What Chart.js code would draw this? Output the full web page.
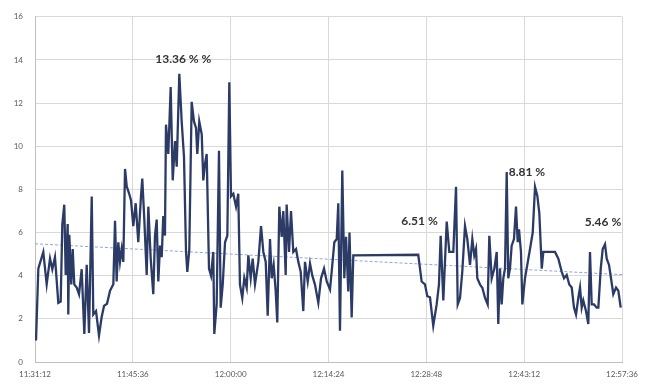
<!DOCTYPE html>
<html>
<head>
<meta charset="utf-8">
<script src="https://cdn.jsdelivr.net/npm/chart.js@4"></script>
<style>
  html, body { margin: 0; padding: 0; background: #fff; }
  #wrap { width: 653px; height: 385px; }
</style>
</head>
<body>
<div id="wrap"><canvas id="cpuChart"></canvas></div>
<script>
// clock time of the first sample, axis runs 86.4 minutes in 14.4 minute steps
const startSeconds = 11 * 3600 + 31 * 60 + 12;
const xTicks = [0, 14.4, 28.8, 43.2, 57.6, 72, 86.4];
const yTicks = [0, 2, 4, 6, 8, 10, 12, 14, 16];

// minutes since start
const minutes = [
  0.15, 0.49, 1.22, 1.72, 2.21, 2.55, 2.94, 3.43, 3.78, 4.02, 4.31, 4.52, 4.81, 4.90, 5.05,
  5.34, 5.55, 5.78, 6.14, 6.48, 6.87, 7.26, 7.61, 7.95, 8.35, 8.58, 8.98, 9.42, 9.82, 10.16,
  10.60, 11.04, 11.53, 11.78, 12.02, 12.26, 12.51, 12.76, 13.00, 13.25, 13.50, 13.84, 14.13, 14.47, 14.82,
  15.20, 15.60, 15.79, 16.09, 16.44, 16.68, 17.03, 17.41, 17.66, 17.91, 18.15, 18.40, 18.65, 18.88, 19.13,
  19.28, 19.62, 19.97, 20.27, 20.61, 20.86, 21.24, 21.59, 21.93, 22.23, 22.42, 22.71, 23.06, 23.40, 23.70,
  23.89, 24.18, 24.54, 24.77, 25.02, 25.27, 25.61, 25.91, 26.24, 26.39, 26.74, 27.08, 27.33, 27.63, 27.97,
  28.31, 28.60, 28.85, 29.19, 29.59, 29.92, 30.17, 30.51, 30.81, 31.16, 31.40, 31.75, 32.04, 32.38, 32.87,
  33.27, 33.61, 33.96, 34.25, 34.59, 34.84, 35.13, 35.43, 35.66, 35.96, 36.31, 36.55, 36.90, 37.04, 37.39,
  37.68, 38.02, 38.42, 38.76, 39.11, 39.49, 39.74, 40.14, 40.48, 40.82, 41.21, 41.70, 42.10, 42.54, 42.94,
  43.42, 43.76, 44.06, 44.41, 44.64, 44.89, 45.23, 45.53, 45.78, 46.11, 46.29, 46.61, 46.85, 56.41, 56.91,
  57.40, 57.74, 58.14, 58.62, 59.12, 59.46, 59.71, 60.10, 60.60, 60.98, 61.23, 61.57, 61.97, 62.22, 62.56,
  62.89, 63.29, 63.63, 64.03, 64.37, 64.66, 64.91, 65.10, 65.50, 65.84, 66.24, 66.63, 66.87, 67.22, 67.61,
  67.96, 68.19, 68.44, 68.69, 68.93, 69.18, 69.43, 69.66, 69.91, 70.16, 70.50, 70.80, 71.05, 71.24, 71.53,
  71.73, 72.12, 72.46, 72.86, 73.26, 73.60, 73.94, 74.23, 74.59, 74.82, 76.54, 77.03, 77.53, 77.87, 78.26,
  78.64, 79.00, 79.33, 79.63, 79.97, 80.22, 80.47, 80.70, 81.10, 81.44, 81.69, 81.94, 82.28, 82.68, 82.92,
  83.27, 83.56, 83.90, 84.15, 84.49, 84.78, 85.12, 85.52, 85.86, 86.21
];

// usage in percent
const usage = [
  1.0, 4.33, 5.1, 3.6, 4.8, 4.3, 4.86, 2.74, 2.8, 6.38, 7.29, 4.03, 6.4, 2.2, 5.9,
  3.6, 5.24, 3.6, 3.45, 3.14, 4.3, 1.3, 4.5, 1.35, 7.67, 2.2, 2.36, 1.23, 2.1, 2.6,
  2.7, 3.3, 3.6, 6.55, 3.73, 5.55, 4.64, 5.24, 4.64, 8.95, 8.14, 7.82, 7.5, 6.3, 7.36,
  5.55, 7.68, 8.5, 6.6, 4.03, 7.2, 4.79, 3.14, 5.86, 6.6, 3.73, 5.4, 4.86, 6.77, 5.86,
  11.0, 9.64, 12.74, 8.42, 10.24, 9.05, 13.36, 11.15, 9.5, 5.1, 4.18, 5.2, 12.06, 11.15, 10.85,
  9.64, 11.15, 10.55, 8.42, 9.18, 9.64, 4.33, 4.0, 5.1, 1.3, 2.68, 9.79, 2.52, 3.6, 5.55,
  5.86, 12.97, 7.68, 7.8, 7.2, 7.8, 3.59, 2.97, 3.9, 3.45, 4.94, 3.9, 4.79, 3.6, 4.64,
  6.3, 5.1, 4.64, 2.14, 5.7, 3.88, 4.5, 3.27, 1.83, 7.2, 5.8, 7.0, 4.03, 7.3, 5.1,
  7.0, 5.1, 5.24, 4.64, 4.18, 2.36, 4.64, 3.73, 4.56, 4.0, 3.59, 2.74, 3.88, 4.33, 3.73,
  3.36, 4.5, 5.55, 5.7, 7.36, 1.45, 8.88, 3.88, 5.8, 3.27, 6.0, 2.06, 4.94, 4.97, 3.73,
  3.6, 3.05, 3.0, 1.68, 2.67, 3.6, 5.85, 2.85, 6.51, 5.1, 5.1, 5.1, 8.12, 2.67, 2.97,
  4.18, 6.3, 5.7, 4.5, 5.7, 4.94, 5.24, 3.88, 3.59, 3.44, 2.97, 2.67, 5.85, 3.88, 4.33,
  5.1, 1.76, 4.33, 2.67, 3.88, 4.33, 8.81, 3.88, 4.33, 5.39, 5.7, 7.2, 5.55, 6.15, 5.1,
  2.67, 3.88, 4.5, 5.24, 6.0, 8.12, 7.7, 6.9, 4.33, 5.1, 5.1, 4.79, 4.18, 3.88, 4.03,
  3.59, 3.45, 2.52, 2.2, 2.97, 3.45, 2.52, 2.85, 2.36, 1.76, 5.1, 2.67, 2.67, 2.52, 2.52,
  4.33, 5.24, 5.46, 4.79, 4.5, 3.88, 3.14, 3.45, 3.3, 2.52
];

// linear trend, value at start and end of the axis
const trendEnds = [5.48, 4.05];

// peaks that get a value callout
const calloutValues = [13.36, 6.51, 8.81, 5.46];
const calloutSuffix = [' % %', ' %', ' %', ' %'];

const pad2 = n => String(n).padStart(2, '0');
function clock(min) {
  const s = Math.round(startSeconds + min * 60);
  return pad2(Math.floor(s / 3600)) + ':' + pad2(Math.floor(s / 60) % 60) + ':' + pad2(s % 60);
}

const series = minutes.map((m, i) => ({ x: m, y: usage[i] }));
const trend = [{ x: xTicks[0], y: trendEnds[0] }, { x: xTicks[xTicks.length - 1], y: trendEnds[1] }];

// where each callout sits relative to its peak: [dx, dy, align]
const calloutPlace = [[4, -15, 'center'], [-9, 0, 'right'], [2, 0, 'left'], [-2, -22, 'center']];

const calloutPlugin = {
  id: 'callouts',
  afterDatasetsDraw(chart) {
    const { ctx, scales } = chart;
    ctx.save();
    ctx.font = 'bold 12px Lato, "Open Sans", sans-serif';
    ctx.fillStyle = '#333333';
    ctx.textBaseline = 'middle';
    calloutValues.forEach((v, k) => {
      const i = usage.indexOf(v);
      if (i < 0) return;
      const px = scales.x.getPixelForValue(minutes[i]);
      const py = scales.y.getPixelForValue(v);
      const p = calloutPlace[k];
      ctx.textAlign = p[2];
      ctx.fillText(v.toFixed(2) + calloutSuffix[k], px + p[0], py + p[1]);
    });
    ctx.restore();
  }
};

new Chart(document.getElementById('cpuChart'), {
  type: 'line',
  data: {
    datasets: [
      {
        data: series,
        borderColor: '#2b3b66',
        borderWidth: 2.3,
        pointRadius: 0,
        tension: 0,
        order: 1
      },
      {
        data: trend,
        borderColor: '#8da6d6',
        borderWidth: 1,
        borderDash: [3, 2],
        pointRadius: 0,
        order: 2
      }
    ]
  },
  options: {
    responsive: true,
    maintainAspectRatio: false,
    animation: false,
    layout: { padding: { top: 10, right: 31, left: 0, bottom: 0 } },
    plugins: {
      legend: { display: false },
      tooltip: { enabled: false }
    },
    scales: {
      x: {
        type: 'linear',
        min: xTicks[0],
        max: xTicks[xTicks.length - 1],
        afterBuildTicks: axis => { axis.ticks = xTicks.map(v => ({ value: v })); },
        afterFit: axis => { axis.height = 23; },
        ticks: {
          autoSkip: false,
          maxRotation: 0,
          padding: 8,
          color: '#595959',
          font: { family: 'Lato, "Open Sans", sans-serif', size: 8 },
          callback: v => clock(v)
        },
        grid: { color: '#d9d9d9', drawTicks: false },
        border: { color: '#bfbfbf' }
      },
      y: {
        min: 0,
        max: 16,
        afterBuildTicks: axis => { axis.ticks = yTicks.map(v => ({ value: v })); },
        afterFit: axis => { axis.width = 35; },
        ticks: {
          padding: 12,
          color: '#595959',
          font: { family: 'Lato, "Open Sans", sans-serif', size: 8 }
        },
        grid: { color: '#d9d9d9', drawTicks: false },
        border: { color: '#bfbfbf' }
      }
    }
  },
  plugins: [calloutPlugin]
});
</script>
</body>
</html>
